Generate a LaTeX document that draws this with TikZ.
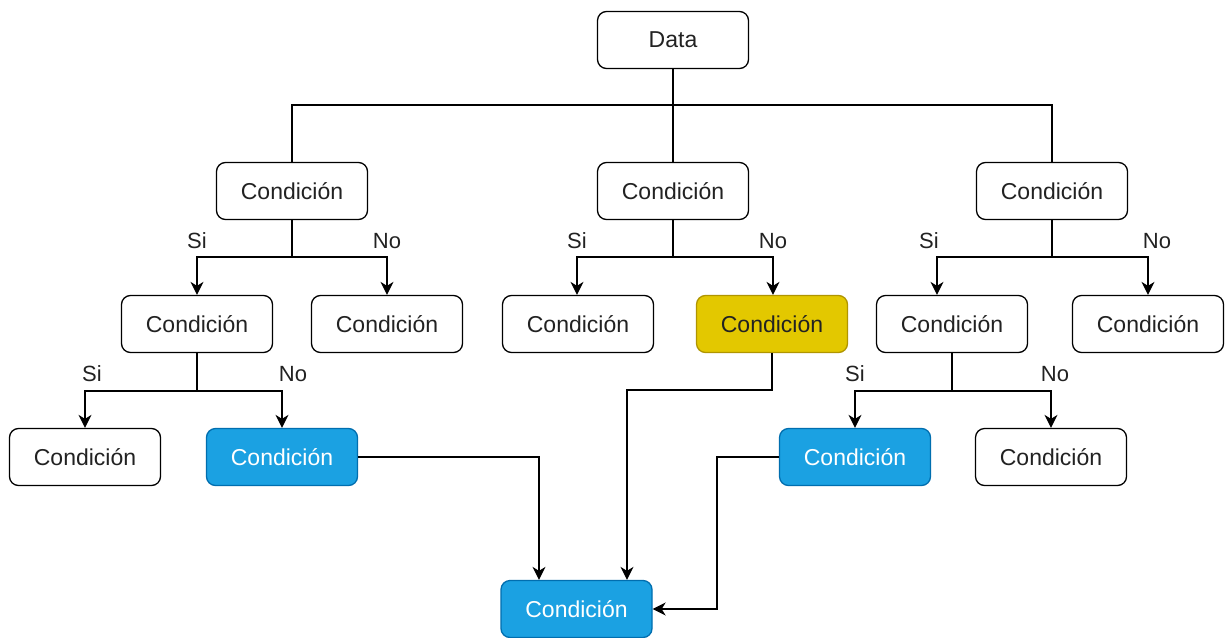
\documentclass[tikz,border=0pt]{standalone}
\usepackage{fontspec}
\setmainfont{Liberation Sans}
\usetikzlibrary{arrows.meta}
\definecolor{bluefill}{HTML}{1BA1E2}
\definecolor{bluedraw}{HTML}{006EAF}
\definecolor{yelfill}{HTML}{E3C800}
\definecolor{yeldraw}{HTML}{B09500}
\definecolor{txt}{HTML}{222222}
\tikzset{
  box/.style={draw=black, line width=1.3pt, rounded corners=9pt, fill=white,
    minimum width=151pt, minimum height=57pt, inner sep=0pt, text=txt,
    font=\fontsize{23}{27}\selectfont},
  bluebox/.style={box, draw=bluedraw, fill=bluefill, text=white},
  yelbox/.style={box, draw=yeldraw, fill=yelfill, text=txt},
  conn/.style={draw=black, line width=1.4pt},
  arr/.style={conn, -{Stealth[length=13pt,width=13pt,inset=4pt]}},
  lbl/.style={text=txt, font=\fontsize{22}{26}\selectfont, inner sep=0pt}
}
\begin{document}
\begin{tikzpicture}[x=1pt,y=-1pt]
\useasboundingbox[fill=white] (0,0) rectangle (1225,637);
% nodes
\node[box] (D) at (673,40) {Data};
\node[box] (A) at (292,191) {Condición};
\node[box] (B) at (673,191) {Condición};
\node[box] (C) at (1052,191) {Condición};
\node[box] (A1) at (197,324) {Condición};
\node[box] (A2) at (387,324) {Condición};
\node[box] (B1) at (578,324) {Condición};
\node[yelbox] (B2) at (772,324) {Condición};
\node[box] (C1) at (952,324) {Condición};
\node[box] (C2) at (1148,324) {Condición};
\node[box] (A11) at (85,457) {Condición};
\node[bluebox] (A12) at (282,457) {Condición};
\node[bluebox] (C11) at (855,457) {Condición};
\node[box] (C12) at (1051,457) {Condición};
\node[bluebox] (F) at (576.5,609) {Condición};
% junctions
\coordinate (jD) at (673,105);
\coordinate (jA) at (292,257);
\coordinate (jB) at (673,257);
\coordinate (jC) at (1052,257);
\coordinate (jA1) at (197,391);
\coordinate (jC1) at (952,391);
\coordinate (y1) at (772,390);
\coordinate (y2) at (627,390);
\coordinate (b1) at (539,457);
\coordinate (r1) at (717,457);
% Data to row 1
\draw[conn] (D.south) -- (jD);
\draw[conn] (jD) -| (A.north);
\draw[conn] (jD) -| (C.north);
\draw[conn] (jD) -- (B.north);
% row 1 to row 2
\draw[conn] (A.south) -- (jA);
\draw[arr] (jA) -| (A1.north);
\draw[arr] (jA) -| (A2.north);
\draw[conn] (B.south) -- (jB);
\draw[arr] (jB) -| ([xshift=-1pt]B1.north);
\draw[arr] (jB) -| ([xshift=1pt]B2.north);
\draw[conn] (C.south) -- (jC);
\draw[arr] (jC) -| ([xshift=-15pt]C1.north);
\draw[arr] (jC) -| (C2.north);
% row 2 to row 3
\draw[conn] (A1.south) -- (jA1);
\draw[arr] (jA1) -| (A11.north);
\draw[arr] (jA1) -| (A12.north);
\draw[conn] (C1.south) -- (jC1);
\draw[arr] (jC1) -| (C11.north);
\draw[arr] (jC1) -| (C12.north);
% to bottom
\draw[arr] (A12.east) -- (b1) -- (b1 |- F.north);
\draw[arr] (B2.south) -- (y1) -- (y2) -- (y2 |- F.north);
\draw[arr] (C11.west) -- (r1) |- (F.east);
% labels
\node[lbl] (l1) at (197,241) {Si};
\node[lbl] (l2) at (387,241) {No};
\node[lbl] (l3) at (577,241) {Si};
\node[lbl] (l4) at (773,241) {No};
\node[lbl] (l5) at (929,241) {Si};
\node[lbl] (l6) at (1157,241) {No};
\node[lbl] (l7) at (92,374) {Si};
\node[lbl] (l8) at (293,374) {No};
\node[lbl] (l9) at (855,374) {Si};
\node[lbl] (l10) at (1055,374) {No};
\end{tikzpicture}
\end{document}
